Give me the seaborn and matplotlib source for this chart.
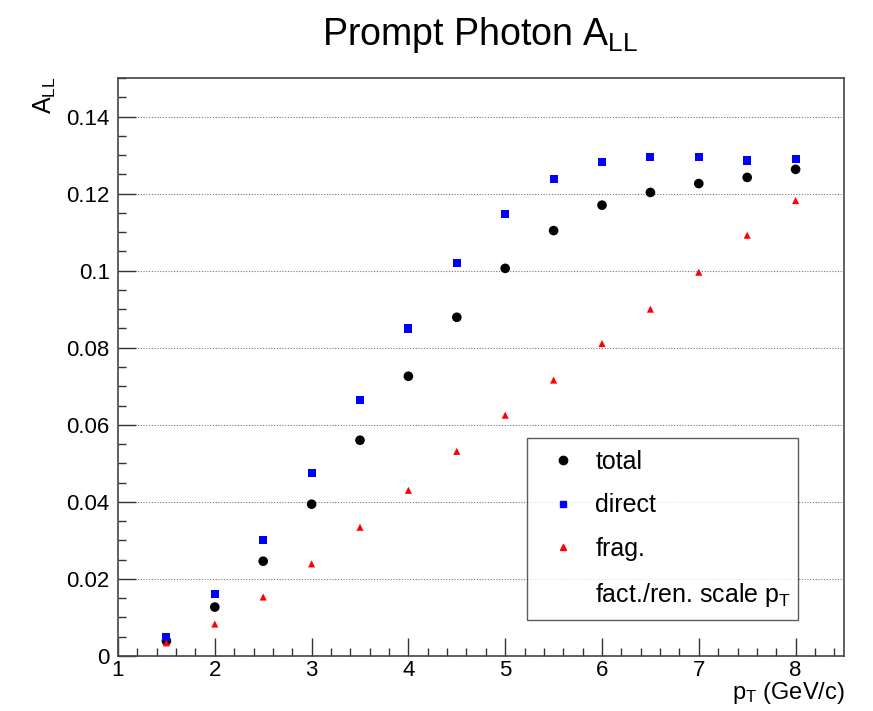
import numpy as np
import pandas as pd
import matplotlib
matplotlib.use('Agg')
import matplotlib.pyplot as plt
import seaborn as sns
from matplotlib.lines import Line2D
from matplotlib.ticker import MultipleLocator, FuncFormatter

pt = [1.5, 2.0, 2.5, 3.0, 3.5, 4.0, 4.5, 5.0, 5.5, 6.0, 6.5, 7.0, 7.5, 8.0]
total = [0.0039, 0.0127, 0.0246, 0.0394, 0.0560, 0.0726, 0.0879, 0.1006,
         0.1104, 0.1170, 0.1203, 0.1226, 0.1242, 0.1263]
direct = [0.0049, 0.0161, 0.0301, 0.0474, 0.0664, 0.0850, 0.1019, 0.1146,
          0.1237, 0.1283, 0.1296, 0.1296, 0.1286, 0.1289]
frag = [0.0034, 0.0083, 0.0153, 0.0239, 0.0334, 0.0430, 0.0531, 0.0625,
        0.0716, 0.0811, 0.0900, 0.0996, 0.1092, 0.1182]
series = ['total', 'direct', 'frag.']
colors = {'total': 'black', 'direct': 'blue', 'frag.': 'red'}
markers = {'total': 'o', 'direct': 's', 'frag.': '^'}
sizes = {'total': 48, 'direct': 34, 'frag.': 26}

sns.set_theme(style='white')
plt.rcParams['font.family'] = ['Liberation Sans', 'DejaVu Sans']
plt.rcParams['mathtext.fontset'] = 'custom'
plt.rcParams['mathtext.rm'] = 'Liberation Sans'
plt.rcParams['mathtext.it'] = 'Liberation Sans:italic'
plt.rcParams['text.color'] = 'black'

df = pd.DataFrame({'pt': pt * 3,
                   'A': total + direct + frag,
                   'series': np.repeat(series, len(pt))})

fig = plt.figure(figsize=(8.73, 7.11), dpi=100)
ax = fig.add_axes([118 / 873, 55 / 711, 726 / 873, 578 / 711])

for s in series:
    sub = df[df['series'] == s]
    sns.scatterplot(data=sub, x='pt', y='A', color=colors[s], marker=markers[s],
                    s=sizes[s], edgecolor='none', linewidth=0, ax=ax, legend=False,
                    zorder=3)

ax.set_xlim(1, 8.5)
ax.set_ylim(0, 0.15)
ax.set_xlabel('')
ax.set_ylabel('')
ax.xaxis.set_major_locator(MultipleLocator(1))
ax.xaxis.set_minor_locator(MultipleLocator(0.2))
ax.yaxis.set_major_locator(MultipleLocator(0.02))
ax.yaxis.set_minor_locator(MultipleLocator(0.005))
ax.yaxis.set_major_formatter(FuncFormatter(lambda v, p: '%g' % round(v, 4)))
ax.xaxis.set_major_formatter(FuncFormatter(lambda v, p: '%g' % v))

ax.tick_params(axis='both', which='both', direction='in', top=False, right=False,
               bottom=True, left=True, colors='#333333', labelcolor='black')
ax.tick_params(axis='both', which='major', length=13, width=1.0, labelsize=16)
ax.tick_params(axis='y', which='major', pad=6)
ax.tick_params(axis='x', which='major', pad=3)
ax.tick_params(axis='both', which='minor', length=6, width=1.0)

ax.yaxis.grid(True, which='major', linestyle=(0, (1, 1.5)), color='#777777', linewidth=0.8)
ax.xaxis.grid(False)
for sp in ax.spines.values():
    sp.set_color('#444444')
    sp.set_linewidth(1.2)

handles = [Line2D([], [], linestyle='', marker='o', color='black', markersize=6),
           Line2D([], [], linestyle='', marker='s', color='blue', markersize=5),
           Line2D([], [], linestyle='', marker='^', color='red', markersize=5),
           Line2D([], [], linestyle='', marker='')]
labels = ['total', 'direct', 'frag.', r'fact./ren. scale p$_{\rm T}$']
leg = ax.legend(handles, labels, loc='lower left',
                bbox_to_anchor=(0.563, 0.062, 0.374, 0.313), mode='expand',
                borderaxespad=0, fontsize=18, labelspacing=0.79,
                handletextpad=0.3, handlelength=2.0, frameon=True, fancybox=False,
                borderpad=0.45)
leg.get_frame().set_edgecolor('#333333')
leg.get_frame().set_linewidth(1.0)

fig.text(480 / 873, 1 - 45 / 711, r'Prompt Photon A$_{\rm LL}$', fontsize=27,
         ha='center', va='baseline')
fig.text(45 / 873, 1 - 95 / 711, r'A$_{\rm LL}$', fontsize=18, rotation=90,
         ha='center', va='center')
fig.text(845 / 873, 1 - 699 / 711, r'p$_{\rm T}$ (GeV/c)', fontsize=17,
         ha='right', va='baseline')

fig.savefig('out.png', dpi=100, facecolor='white')
